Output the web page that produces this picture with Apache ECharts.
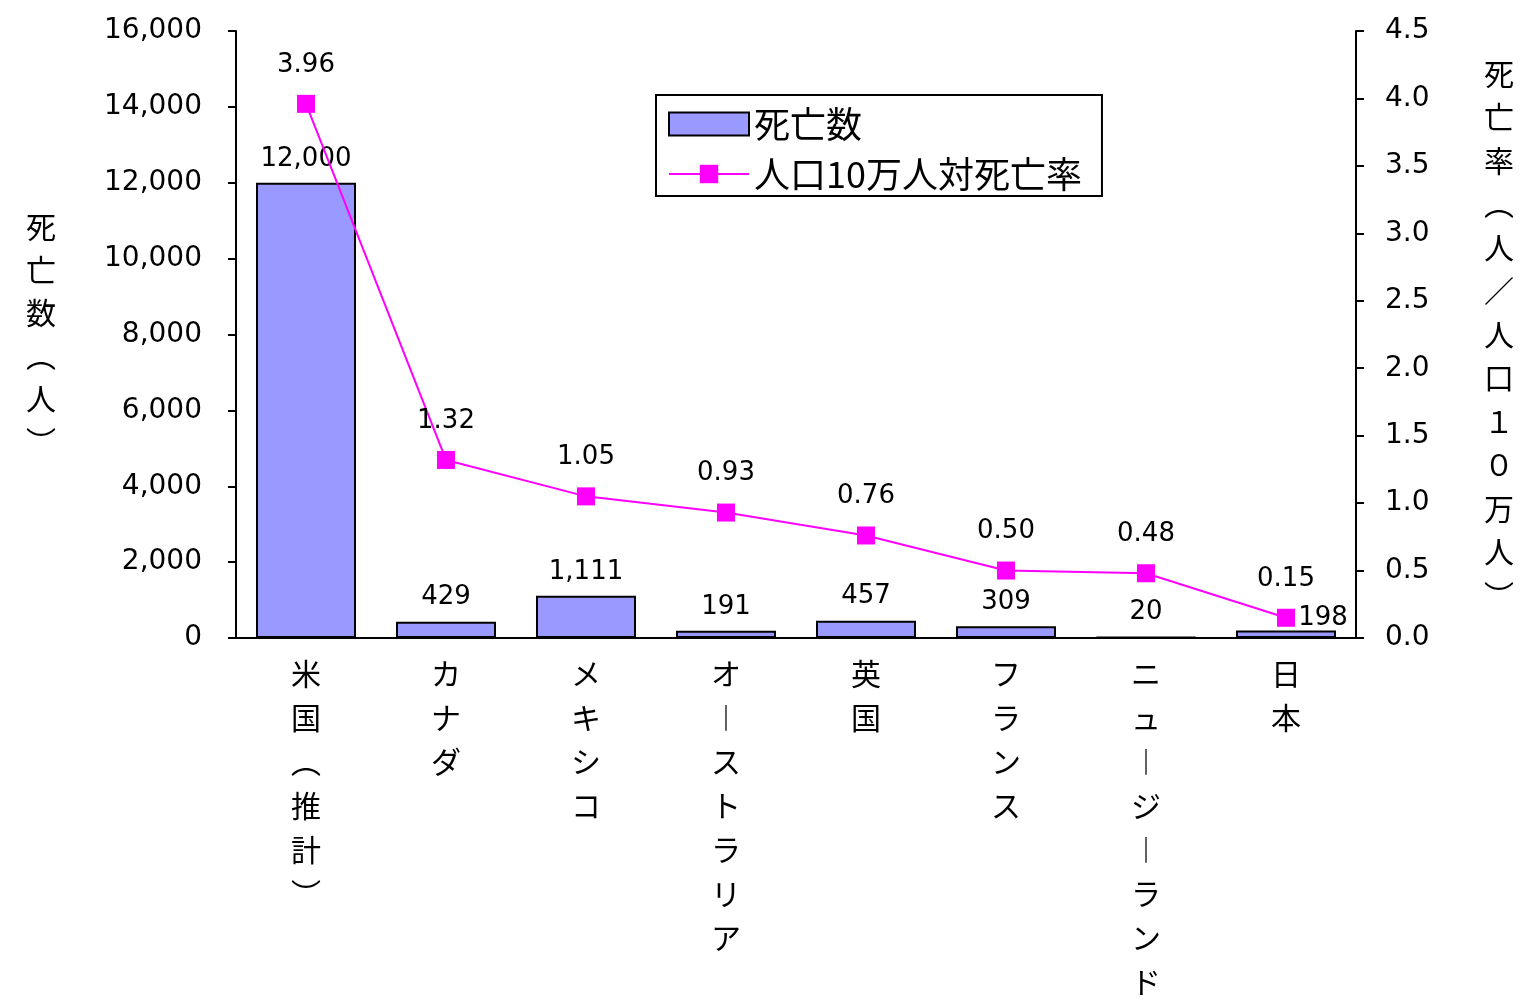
<!DOCTYPE html>
<html>
<head>
<meta charset="utf-8">
<script src="https://cdn.jsdelivr.net/npm/echarts@6/dist/echarts.min.js"></script>
<style>
html,body{margin:0;padding:0;background:#fff;}
#chart{width:1523px;height:1004px;}
</style>
</head>
<body>
<div id="chart"></div>
<script>
const categories = ['米国（推計）', 'カナダ', 'メキシコ', 'オーストラリア', '英国', 'フランス', 'ニュージーランド', '日本'];
const deaths = [12000, 429, 1111, 191, 457, 309, 20, 198];
const rates = [3.96, 1.32, 1.05, 0.93, 0.76, 0.50, 0.48, 0.15];
const leftTicks = [0, 2000, 4000, 6000, 8000, 10000, 12000, 14000, 16000];
const rightTicks = [0.0, 0.5, 1.0, 1.5, 2.0, 2.5, 3.0, 3.5, 4.0, 4.5];
const seriesNames = ['死亡数', '人口10万人対死亡率'];
const leftTitle = '死亡数（人）';
const rightTitle = '死亡率（人／人口１０万人）';

const CJK = '"Noto Sans CJK JP", "Noto Sans", sans-serif';
const NUM = '"DejaVu Sans", sans-serif';
const vmap = {'（':'︵','）':'︶','ー':'︱','(':'︵',')':'︶'};
const toVertical = s => Array.from(s).map(c => vmap[c] || c).join('\n');

const chart = echarts.init(document.getElementById('chart'), null, {renderer:'canvas'});

const barData = deaths.map((v, i) => {
  const d = {value: v};
  if (i === deaths.length - 1) d.label = {offset: [37, 12]};
  return d;
});

chart.setOption({
  backgroundColor: '#fff',
  animation: false,
  grid: {left: 236, right: 167, top: 31, bottom: 361, containLabel: false},
  legend: {
    orient: 'vertical',
    left: 656, top: 95,
    backgroundColor: '#fff',
    borderColor: '#000', borderWidth: 2, borderRadius: 0,
    padding: [11, 20, 4, 12],
    itemWidth: 80, itemHeight: 23, itemGap: 14, itemTextGap: 13,
    textStyle: {fontSize: 36, lineHeight: 36, fontFamily: CJK, color: '#000'},
    data: [{name: seriesNames[0], icon: 'rect'}, {name: seriesNames[1]}]
  },
  xAxis: {
    type: 'category',
    data: categories,
    axisLine: {lineStyle: {color: '#000', width: 2}},
    axisTick: {show: false},
    axisLabel: {
      interval: 0, margin: 14, color: '#000',
      fontSize: 30, lineHeight: 44, fontFamily: CJK,
      formatter: v => toVertical(v)
    }
  },
  yAxis: [{
    type: 'value', min: 0, max: 16000, interval: 2000,
    name: toVertical(leftTitle), nameLocation: 'middle', nameRotate: 0, nameGap: 180,
    nameTextStyle: {fontSize: 30, lineHeight: 43, fontFamily: CJK, color: '#000'},
    axisLine: {show: true, lineStyle: {color: '#000', width: 2}},
    axisTick: {show: true, length: 8, lineStyle: {color: '#000', width: 2}},
    splitLine: {show: false},
    axisLabel: {margin: 34, fontSize: 28, fontFamily: NUM, color: '#000',
      formatter: v => leftTicks.includes(v) ? v.toLocaleString('en-US') : ''}
  }, {
    type: 'value', min: 0, max: 4.5, interval: 0.5, position: 'right',
    name: toVertical(rightTitle), nameLocation: 'middle', nameRotate: 0, nameGap: 128,
    nameTextStyle: {fontSize: 30, lineHeight: 43.5, fontFamily: CJK, color: '#000'},
    axisLine: {show: true, lineStyle: {color: '#000', width: 2}},
    axisTick: {show: true, length: 8, lineStyle: {color: '#000', width: 2}},
    splitLine: {show: false},
    axisLabel: {margin: 29, fontSize: 28, fontFamily: NUM, color: '#000',
      formatter: v => rightTicks.some(t => Math.abs(t - v) < 1e-9) ? v.toFixed(1) : ''}
  }],
  series: [{
    name: seriesNames[0],
    type: 'bar',
    yAxisIndex: 0,
    barWidth: 100,
    data: barData,
    itemStyle: {color: '#9999FF', borderColor: '#000', borderWidth: 2},
    label: {show: true, position: 'top', distance: 11, fontSize: 26, fontFamily: NUM, color: '#000',
      formatter: p => p.value.toLocaleString('en-US')},
    z: 2
  }, {
    name: seriesNames[1],
    type: 'line',
    yAxisIndex: 1,
    data: rates,
    symbol: 'rect', symbolSize: 18,
    itemStyle: {color: '#FF00FF'},
    lineStyle: {color: '#FF00FF', width: 2},
    label: {show: true, position: 'top', distance: 17, fontSize: 26, fontFamily: NUM, color: '#000',
      formatter: p => p.value.toFixed(2)},
    z: 3
  }]
});
</script>
</body>
</html>
